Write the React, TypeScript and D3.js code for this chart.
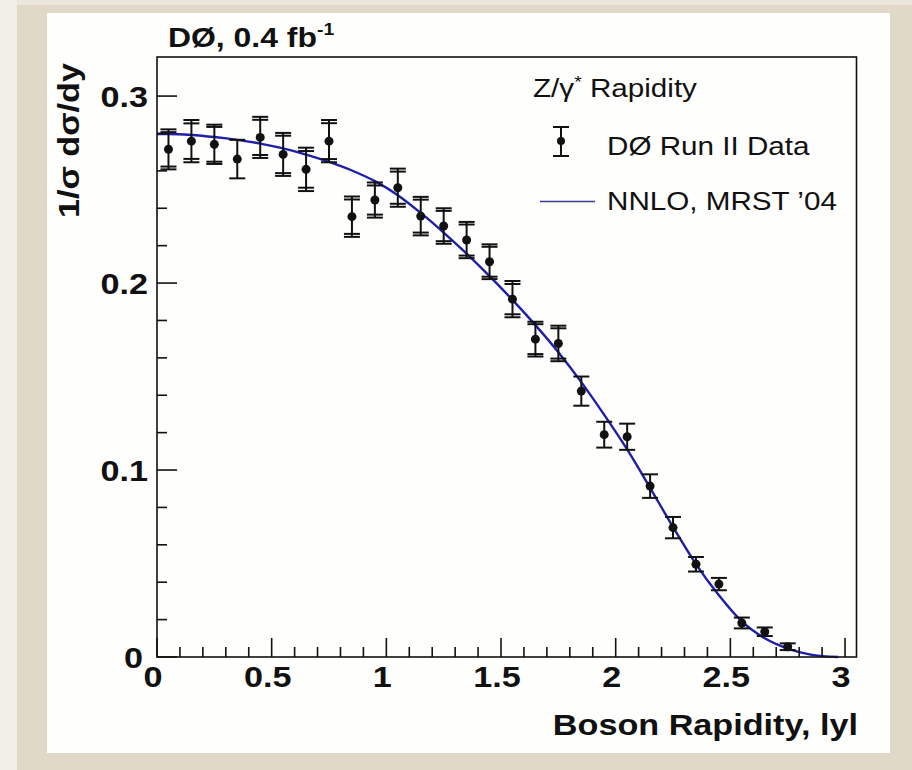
import React from "react";
import * as d3 from "d3";

// ---- data ----
const binCenters = [0.05, 0.15, 0.25, 0.35, 0.45, 0.55, 0.65, 0.75, 0.85, 0.95, 1.05, 1.15, 1.25, 1.35, 1.45, 1.55, 1.65, 1.75, 1.85, 1.95, 2.05, 2.15, 2.25, 2.35, 2.45, 2.55, 2.65, 2.75];
const dataValues = [0.2715, 0.2759, 0.2742, 0.2663, 0.2779, 0.2688, 0.2608, 0.2759, 0.2355, 0.2444, 0.251, 0.2358, 0.2305, 0.223, 0.2114, 0.1914, 0.17, 0.1677, 0.1422, 0.1189, 0.1178, 0.0914, 0.0692, 0.0496, 0.039, 0.0182, 0.0135, 0.0055];
const totalErrors = [0.0107, 0.0113, 0.0105, 0.0103, 0.011, 0.0115, 0.0116, 0.0113, 0.0108, 0.0094, 0.0102, 0.0103, 0.0095, 0.0097, 0.0093, 0.0097, 0.0093, 0.0095, 0.0078, 0.0069, 0.007, 0.0063, 0.0057, 0.0039, 0.0033, 0.0029, 0.0023, 0.0018];
const statErrors = [0.0092, 0.0095, 0.0093, 0.0103, 0.0094, 0.01, 0.0098, 0.0096, 0.0092, 0.0078, 0.0086, 0.0088, 0.0081, 0.0083, 0.008, 0.0081, 0.008, 0.0081, 0.0078, 0.0069, 0.007, 0.0063, 0.0057, 0.0039, 0.0033, 0.0029, 0.0023, 0.0018];

const nnloX = [0, 0.05, 0.15, 0.25, 0.35, 0.45, 0.55, 0.65, 0.75, 0.85, 0.95, 1.05, 1.15, 1.25, 1.35, 1.45, 1.55, 1.65, 1.75, 1.85, 1.95, 2.05, 2.15, 2.25, 2.35, 2.45, 2.55, 2.65, 2.75, 2.85, 2.97];
const nnloY = [0.2797, 0.2797, 0.2792, 0.2781, 0.2766, 0.2746, 0.272, 0.2687, 0.2648, 0.2602, 0.2545, 0.247, 0.2375, 0.227, 0.2157, 0.2037, 0.191, 0.1775, 0.163, 0.147, 0.1295, 0.111, 0.0905, 0.0695, 0.0497, 0.033, 0.019, 0.01, 0.0045, 0.0013, 0.0];

const xMajorTicks = [0, 0.5, 1, 1.5, 2, 2.5, 3];
const xTickLabels = ["0", "0.5", "1", "1.5", "2", "2.5", "3"];
const yMajorTicks = [0, 0.1, 0.2, 0.3];
const yTickLabels = ["0", "0.1", "0.2", "0.3"];

const titleText = "DØ, 0.4 fb";
const titleSup = "-1";
const xAxisTitle = "Boson Rapidity, lyl";
const yAxisTitle = "1/σ dσ/dy";
const legendHeader = "Z/γ";
const legendHeaderSup = "*";
const legendData = "DØ Run II Data";
const legendTheory = "NNLO, MRST ’04";

// ---- layout ----
const W = 912;
const H = 770;
const FL = 157, FR = 856.5, FT = 57, FB = 657;
const SX = 1.14;
const FONT = "'Liberation Sans', Arial, Helvetica, sans-serif";
const CURVE_COLOR = "#1e1ea8";

export default function App() {
  const x = d3.scaleLinear().domain([0, 3.05]).range([FL, FR]);
  const y = d3.scaleLinear().domain([0, 0.3209]).range([FB, FT]);

  const xMinor = d3.range(0, 3.05, 0.1).filter((v) => Math.abs(v * 2 - Math.round(v * 2)) > 1e-6);
  const yMinor = d3.range(0, 0.32, 0.02).filter((v) => Math.abs(v * 10 - Math.round(v * 10)) > 1e-6);

  const line = d3
    .line<number>()
    .x((_, i) => x(nnloX[i]))
    .y((d) => y(d))
    .curve(d3.curveMonotoneX);
  const curvePath = line(nnloY) || "";

  const capW = 8;

  return (
    <svg
      width={W}
      height={H}
      style={{ position: "absolute", left: 0, top: 0, display: "block" }}
      fontFamily={FONT}
    >
      {/* paper background */}
      <rect x={0} y={0} width={W} height={H} fill="#e0d9c8" />
      <rect x={0} y={0} width={17} height={H} fill="#f2efe7" />
      <rect x={17} y={0} width={W - 17} height={5} fill="#ebe7dc" />
      <rect x={47} y={13} width={843} height={740} fill="#fefefd" />

      {/* curve */}
      <path d={curvePath} fill="none" stroke={CURVE_COLOR} strokeWidth={2.4} />

      {/* data with error bars */}
      {binCenters.map((c, i) => {
        const cx = x(c);
        const v = dataValues[i];
        const te = totalErrors[i];
        const se = statErrors[i];
        const showStat = Math.abs(te - se) > 0.0004;
        return (
          <g key={i} stroke="#111" strokeWidth={2}>
            <line x1={cx} x2={cx} y1={y(v + te)} y2={y(v - te)} />
            <line x1={cx - capW} x2={cx + capW} y1={y(v + te)} y2={y(v + te)} />
            <line x1={cx - capW} x2={cx + capW} y1={y(v - te)} y2={y(v - te)} />
            {showStat && (
              <>
                <line x1={cx - capW} x2={cx + capW} y1={y(v + se)} y2={y(v + se)} />
                <line x1={cx - capW} x2={cx + capW} y1={y(v - se)} y2={y(v - se)} />
              </>
            )}
            <circle cx={cx} cy={y(v)} r={4.5} fill="#111" stroke="none" />
          </g>
        );
      })}

      {/* frame */}
      <rect x={FL} y={FT} width={FR - FL} height={FB - FT} fill="none" stroke="#111" strokeWidth={1.6} />

      {/* x ticks */}
      {xMajorTicks.map((t) => (
        <line key={"xM" + t} x1={x(t)} x2={x(t)} y1={FB} y2={FB - 19} stroke="#111" strokeWidth={1.6} />
      ))}
      {xMinor.map((t, i) => (
        <line key={"xm" + i} x1={x(t)} x2={x(t)} y1={FB} y2={FB - 10} stroke="#111" strokeWidth={1.6} />
      ))}
      {/* y ticks */}
      {yMajorTicks.map((t) => (
        <line key={"yM" + t} x1={FL} x2={FL + 20} y1={y(t)} y2={y(t)} stroke="#111" strokeWidth={1.6} />
      ))}
      {yMinor.map((t, i) => (
        <line key={"ym" + i} x1={FL} x2={FL + 10} y1={y(t)} y2={y(t)} stroke="#111" strokeWidth={1.6} />
      ))}

      {/* x tick labels */}
      {xMajorTicks.map((t, i) => (
        <g key={"xl" + t} transform={`translate(${x(t) - 4},687) scale(${SX},1)`}>
          <text textAnchor="middle" fontSize={30} fontWeight="bold" fill="#111">
            {xTickLabels[i]}
          </text>
        </g>
      ))}
      {/* y tick labels */}
      {yMajorTicks.map((t, i) => (
        <g key={"yl" + t} transform={`translate(${t === 0 ? 143 : 148},${y(t) + 10.5}) scale(${SX},1)`}>
          <text textAnchor="end" fontSize={30} fontWeight="bold" fill="#111">
            {yTickLabels[i]}
          </text>
        </g>
      ))}

      {/* axis titles */}
      <g transform={`translate(858,735) scale(${SX},1)`}>
        <text textAnchor="end" fontSize={30} fontWeight="bold" fill="#111">
          {xAxisTitle}
        </text>
      </g>
      <g transform={`translate(79,63) rotate(-90) scale(${SX},1)`}>
        <text textAnchor="end" fontSize={30} fontWeight="bold" fill="#111">
          {yAxisTitle}
        </text>
      </g>

      {/* title */}
      <g transform={`translate(168,47) scale(${SX},1)`}>
        <text fontSize={28} fontWeight="bold" fill="#111">
          {titleText}
          <tspan fontSize={17} dy={-12}>
            {titleSup}
          </tspan>
        </text>
      </g>

      {/* legend */}
      <g transform={`translate(533,97) scale(${SX},1)`}>
        <text fontSize={26} fill="#111">
          {legendHeader}
          <tspan fontSize={17} dy={-9}>
            {legendHeaderSup}
          </tspan>
          <tspan dy={9}> Rapidity</tspan>
        </text>
      </g>
      <g stroke="#111" strokeWidth={2}>
        <line x1={561} x2={561} y1={127} y2={156} />
        <line x1={553} x2={569} y1={127} y2={127} />
        <line x1={553} x2={569} y1={156} y2={156} />
        <circle cx={561} cy={141} r={4} fill="#111" stroke="none" />
      </g>
      <g transform={`translate(607,155) scale(${SX},1)`}>
        <text fontSize={26} fill="#111">
          {legendData}
        </text>
      </g>
      <line x1={540} x2={595} y1={201.5} y2={201.5} stroke="#3a3a96" strokeWidth={1.6} />
      <g transform={`translate(607,210) scale(${SX},1)`}>
        <text fontSize={26} fill="#111">
          {legendTheory}
        </text>
      </g>
    </svg>
  );
}
